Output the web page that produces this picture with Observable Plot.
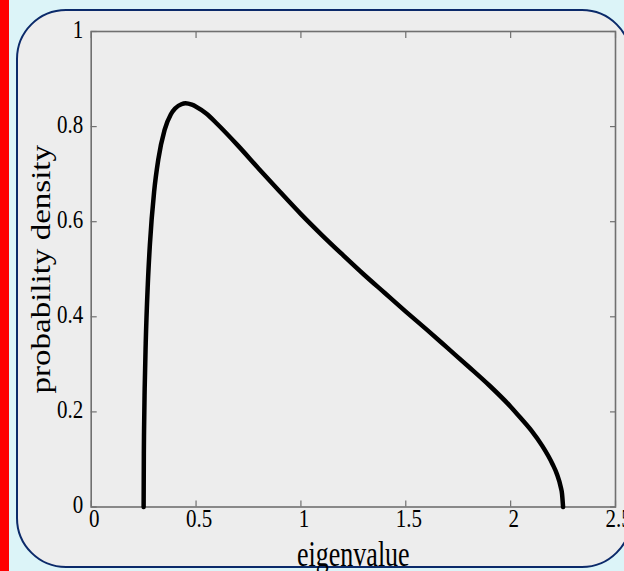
<!DOCTYPE html>
<html>
<head>
<meta charset="utf-8">
<script src="https://cdn.jsdelivr.net/npm/d3@7"></script>
<script src="https://cdn.jsdelivr.net/npm/@observablehq/plot@0.6"></script>
<style>
  html, body { margin: 0; padding: 0; }
  #wrap { position: relative; width: 624px; height: 571px; overflow: hidden; background: #dcf4f8; }
  #strip { position: absolute; left: 0; top: 0; width: 9px; height: 571px; background: #ff0000; }
  #box { position: absolute; left: 16px; top: 9px; width: 616px; height: 559px; border: 2.5px solid #0b2a6a; border-radius: 50px; background: #ededed; box-sizing: border-box; }
  #chart { position: absolute; left: 0; top: 0; }
</style>
</head>
<body>
<div id="wrap"><div id="strip"></div><div id="box"></div><div id="chart"></div></div>
<script>
// Eigenvalue positions
const eigenvalue = [0.25, 0.251, 0.252, 0.255, 0.26, 0.27, 0.28, 0.30, 0.32, 0.35, 0.38, 0.40, 0.43, 0.45, 0.48, 0.50, 0.55, 0.60, 0.70, 0.80, 0.90, 1.00, 1.10, 1.20, 1.30, 1.40, 1.50, 1.60, 1.70, 1.80, 1.90, 2.00, 2.05, 2.10, 2.15, 2.20, 2.22, 2.24, 2.245, 2.25];
// Probability density
const density = [0, 0.113, 0.160, 0.249, 0.345, 0.469, 0.553, 0.663, 0.731, 0.793, 0.826, 0.838, 0.847, 0.849, 0.846, 0.842, 0.827, 0.806, 0.760, 0.711, 0.663, 0.616, 0.572, 0.530, 0.489, 0.450, 0.411, 0.373, 0.334, 0.295, 0.255, 0.211, 0.186, 0.160, 0.129, 0.090, 0.070, 0.040, 0.028, 0];

const xTicks = [0, 0.5, 1, 1.5, 2, 2.5];
const xTickLabels = ["0", "0.5", "1", "1.5", "2", "2.5"];
const yTicks = [0, 0.2, 0.4, 0.6, 0.8, 1];
const yTickLabels = ["0", "0.2", "0.4", "0.6", "0.8", "1"];
const xLabel = "eigenvalue";
const yLabel = "probability density";

const data = eigenvalue.map((x, i) => ({x, y: density[i]}));
const frameColor = "#707070";

const chart = Plot.plot({
  width: 624,
  height: 571,
  marginLeft: 90.7,
  marginRight: 9,
  marginTop: 31,
  marginBottom: 64.5,
  style: { background: "transparent", fontFamily: "'Liberation Serif', 'Times New Roman', serif", color: "#000", overflow: "visible" },
  x: { domain: [0, 2.5] },
  y: { domain: [0, 1] },
  marks: [
    Plot.axisX({ ticks: xTicks, tickSize: -6, text: null, label: null, stroke: frameColor, strokeWidth: 1.2 }),
    Plot.axisX({ anchor: "top", ticks: xTicks, tickSize: -6, text: null, label: null, stroke: frameColor, strokeWidth: 1.2 }),
    Plot.axisY({ ticks: yTicks, tickSize: -6, text: null, label: null, stroke: frameColor, strokeWidth: 1.2 }),
    Plot.axisY({ anchor: "right", ticks: yTicks, tickSize: -6, text: null, label: null, stroke: frameColor, strokeWidth: 1.2 }),
    Plot.axisX({ ticks: xTicks, tickSize: 0, tickPadding: 2.5, label: null, fontSize: 21, dx: 3, fill: "#000",
      tickFormat: (d) => xTickLabels[xTicks.indexOf(d)], className: "stretch-tick" }),
    Plot.axisY({ ticks: yTicks, tickSize: 0, tickPadding: 8, label: null, fontSize: 21, dy: -2, fill: "#000",
      tickFormat: (d) => yTickLabels[yTicks.indexOf(d)], className: "stretch-tick" }),
    Plot.frame({ stroke: frameColor, strokeWidth: 1.6 }),
    Plot.line(data, { x: "x", y: "y", stroke: "#000", strokeWidth: 4.5, curve: "monotone-x", strokeLinejoin: "round" }),
    Plot.text([xLabel], { text: (d) => d, frameAnchor: "bottom", textAnchor: "middle", dy: 48, lineAnchor: "middle", fontSize: 26, fill: "#000", className: "stretch-xlabel" }),
    Plot.text([yLabel], { text: (d) => d, frameAnchor: "left", textAnchor: "middle", dx: -50, rotate: -90, lineAnchor: "middle", fontSize: 28, fill: "#000", className: "stretch-ylabel" })
  ]
});

function stretch(sel, extra) {
  chart.querySelectorAll(sel + " text").forEach((t) => {
    let tr = t.getAttribute("transform");
    if (!tr) {
      const x = t.getAttribute("x") || 0, y = t.getAttribute("y") || 0;
      t.removeAttribute("x"); t.removeAttribute("y");
      tr = `translate(${x},${y})`;
    }
    t.setAttribute("transform", tr + " " + extra);
  });
}
stretch(".stretch-tick", "scale(1,1.2)");
stretch(".stretch-xlabel", "scale(1,1.35)");
stretch(".stretch-ylabel", "scale(1.18,1)");

document.getElementById("chart").appendChild(chart);
</script>
</body>
</html>
